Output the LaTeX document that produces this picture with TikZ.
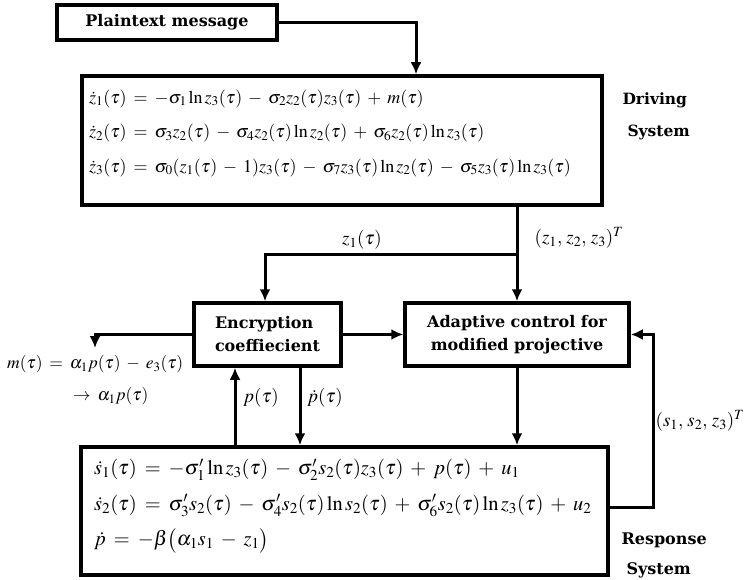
\documentclass[tikz,border=0pt]{standalone}
\usepackage{mathptmx}
\usepackage[no-math]{fontspec}
\setmainfont{Liberation Serif}
\newfontfamily\lblfont{DejaVu Serif}
\usetikzlibrary{positioning,arrows.meta}
\medmuskip=6mu plus 2mu minus 4mu
\thickmuskip=7mu plus 5mu

\tikzset{
  box/.style={draw, line width=3.5pt, inner sep=0pt},
  lbl/.style={font=\lblfont\bfseries\fontsize{16}{23}\selectfont},
  eqs/.style={align=left, inner sep=0pt},
  sig/.style={inner sep=1pt, font=\fontsize{19}{32}\selectfont},
  flow/.style={-{Latex[length=12pt,width=11pt]}, line width=3pt}
}

\begin{document}
\begin{tikzpicture}[x=1pt, y=-1pt, line join=miter]
  \useasboundingbox (0,0) rectangle (746,580);
  %% blocks
  \node[box, lbl, minimum width=220pt, minimum height=35pt] (plain) at (167,22.5) {Plaintext message};
  \node[box, minimum width=520pt, minimum height=129pt] (drv) at (342,140.5) {};
  \node[eqs, anchor=west, font=\fontsize{18}{34.5}\selectfont] (drveq) at (89,133) {%
    $\dot z_1(\tau)=-\sigma_1\ln z_3(\tau)-\sigma_2 z_2(\tau)z_3(\tau)+m(\tau)$\\
    $\dot z_2(\tau)=\sigma_3 z_2(\tau)-\sigma_4 z_2(\tau)\ln z_2(\tau)+\sigma_6 z_2(\tau)\ln z_3(\tau)$\\
    $\dot z_3(\tau)=\sigma_0(z_1(\tau)-1)z_3(\tau)-\sigma_7 z_3(\tau)\ln z_2(\tau)-\sigma_5 z_3(\tau)\ln z_3(\tau)$};
  \node[lbl, align=left, anchor=west, font=\lblfont\bfseries\fontsize{15.5}{32}\selectfont] (drvlbl) at (619,116) {Driving\\\hspace*{5pt}System};
  \node[box, lbl, align=left, minimum width=147pt, minimum height=63pt] (enc) at (267.5,334.5) {Encryption\\coeffiecient};
  \node[box, lbl, align=center, minimum width=224pt, minimum height=63pt] (adapt) at (517,334.5) {Adaptive control for\\modified projective};
  \node[box, minimum width=527pt, minimum height=128pt] (resp) at (344.5,511) {};
  \node[eqs, anchor=west, font=\fontsize{20.5}{35.5}\selectfont] (respeq) at (94,506) {%
    $\dot s_1(\tau)=-\sigma'_1\ln z_3(\tau)-\sigma'_2 s_2(\tau)z_3(\tau)+p(\tau)+u_1$\\
    $\dot s_2(\tau)=\sigma'_3 s_2(\tau)-\sigma'_4 s_2(\tau)\ln s_2(\tau)+\sigma'_6 s_2(\tau)\ln z_3(\tau)+u_2$\\
    $\dot p=-\beta\bigl(\alpha_1 s_1-z_1\bigr)$};
  \node[lbl, align=left, anchor=west, font=\lblfont\bfseries\fontsize{16}{30}\selectfont] (resplbl) at (618,555) {Response\\\hspace*{5pt}System};
  %% junctions
  \coordinate (split) at (517,254);
  \coordinate (mout) at (95,348);
  \coordinate (pup) at (235,400);
  \coordinate (pdn) at (300,400);
  \coordinate (fb) at (653,507);
  %% connectors
  \draw[flow] (plain.east) -| ([xshift=74pt]drv.north);
  \draw[flow] (adapt.north |- drv.south) -- (adapt.north);
  \draw[flow] (split) -| ([xshift=-2.5pt]enc.north);
  \draw[flow] (enc.east) -- (adapt.west);
  \draw[flow] (enc.west) -| (mout);
  \draw[flow] (resp.north -| pup) -- (enc.south -| pup);
  \draw[flow] (enc.south -| pdn) -- (resp.north -| pdn);
  \draw[flow] (adapt.south) -- (resp.north -| adapt.south);
  \draw[flow] (resp.east |- fb) -- (fb) |- (adapt.east);
  %% signal labels
  \node[sig] (z1lbl) at (362,240) {$z_1(\tau)$};
  \node[sig] (zvec) at (579,238) {$(z_1,\,z_2,\,z_3)^T$};
  \node[sig] (svec) at (700,421) {$(s_1,\,s_2,\,z_3)^T$};
  \node[sig] (plbl) at (261,398) {$p(\tau)$};
  \node[sig] (pdlbl) at (325,398) {$\dot p(\tau)$};
  \node[sig, align=left, anchor=west, font=\fontsize{17.5}{32}\selectfont] (mlbl) at (6,380) {$m(\tau)=\alpha_1 p(\tau)-e_3(\tau)$\\\hspace*{66pt}$\to\alpha_1 p(\tau)$};
\end{tikzpicture}
\end{document}
